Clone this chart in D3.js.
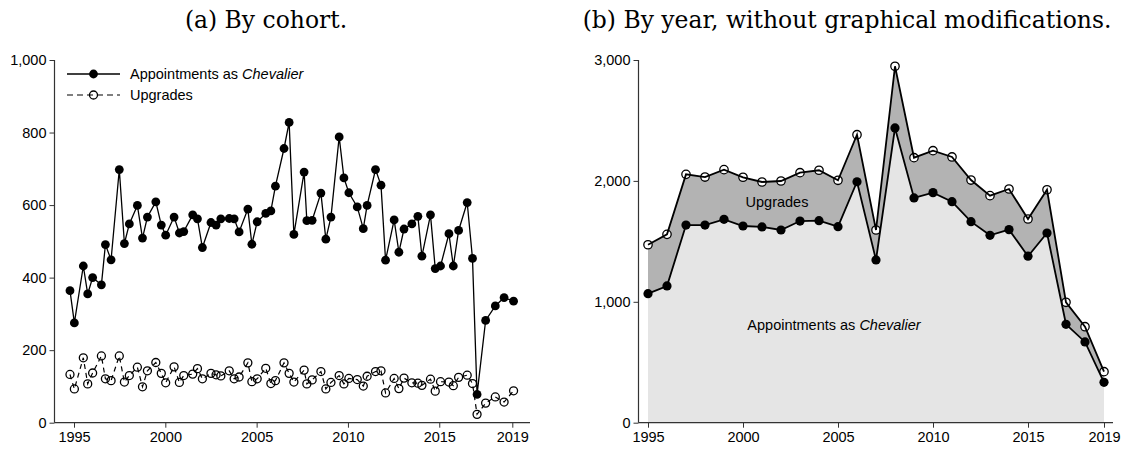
<!DOCTYPE html>
<html>
<head>
<meta charset="utf-8">
<script src="https://cdn.jsdelivr.net/npm/d3@7"></script>
<style>
html, body { margin: 0; padding: 0; background: #fff; }
svg { display: block; }
.tick text { font-family: "Liberation Sans", Arial, sans-serif; font-size: 14.5px; fill: #000; }
</style>
</head>
<body>
<svg id="chart" width="1125" height="449"></svg>
<script>
// ---------- Data: (a) by cohort ----------
const cohortDates = [1994.78, 1995.02, 1995.51, 1995.75, 1996.02, 1996.50, 1996.72, 1997.03, 1997.48, 1997.76,
  1998.03, 1998.47, 1998.75, 1999.02, 1999.48, 1999.78, 2000.02, 2000.48, 2000.77, 2001.01,
  2001.50, 2001.76, 2002.03, 2002.50, 2002.78, 2003.04, 2003.50, 2003.77, 2004.04, 2004.52,
  2004.74, 2005.03, 2005.50, 2005.78, 2006.03, 2006.50, 2006.78, 2007.04, 2007.60, 2007.75,
  2008.04, 2008.52, 2008.79, 2009.07, 2009.52, 2009.78, 2010.05, 2010.51, 2010.84, 2011.05,
  2011.51, 2011.81, 2012.06, 2012.53, 2012.79, 2013.07, 2013.50, 2013.83, 2014.05, 2014.52,
  2014.78, 2015.07, 2015.53, 2015.77, 2016.06, 2016.53, 2016.82, 2017.07, 2017.54, 2018.07,
  2018.55, 2019.07];
const cohortAppointments = [364, 275, 432, 355, 400, 380, 491, 449, 698, 494,
  548, 599, 509, 567, 609, 545, 517, 567, 523, 527,
  573, 562, 483, 552, 545, 562, 563, 562, 526, 589,
  492, 554, 577, 584, 652, 756, 828, 519, 691, 557,
  558, 633, 506, 567, 788, 675, 634, 595, 535, 599,
  698, 655, 448, 559, 470, 534, 548, 569, 459, 573,
  425, 432, 521, 432, 530, 607, 453, 78, 282, 322,
  345, 335];
const cohortUpgrades = [133, 93, 179, 107, 137, 184, 121, 116, 184, 112,
  130, 153, 99, 143, 166, 136, 110, 154, 111, 130,
  134, 149, 121, 136, 132, 129, 143, 121, 126, 165,
  113, 121, 150, 108, 116, 165, 136, 112, 145, 107,
  118, 141, 93, 111, 130, 107, 122, 119, 101, 128,
  141, 143, 82, 122, 94, 123, 110, 109, 103, 120,
  87, 113, 112, 102, 125, 131, 108, 23, 54, 71,
  57, 88];

// ---------- Data: (b) by year ----------
const years = [1995, 1996, 1997, 1998, 1999, 2000, 2001, 2002, 2003, 2004, 2005, 2006, 2007,
  2008, 2009, 2010, 2011, 2012, 2013, 2014, 2015, 2016, 2017, 2018, 2019];
const yearAppointments = [1067, 1131, 1635, 1635, 1682, 1627, 1619, 1594, 1668, 1671, 1621, 1993, 1346,
  2438, 1859, 1903, 1828, 1663, 1550, 1597, 1377, 1569, 814, 668, 334];
const yearUpgrades = [405, 427, 419, 397, 411, 403, 372, 405, 400, 417, 384, 389, 248,
  510, 333, 347, 370, 344, 328, 336, 308, 358, 182, 126, 88];

// ---------- Tick labels / texts ----------
const xTicks = [1995, 2000, 2005, 2010, 2015, 2019];
const yTicksLeft = [0, 200, 400, 600, 800, 1000];
const yTicksRight = [0, 1000, 2000, 3000];
const titleA = "(a) By cohort.";
const titleB = "(b) By year, without graphical modifications.";
const seriesNames = ["Appointments as ", "Chevalier", "Upgrades"];

const svg = d3.select("#chart");
const fmt = d3.format(",");
const sans = '"Liberation Sans", Arial, sans-serif';
const axisColor = "#333";

// ---------- Titles ----------
const serif = '"DejaVu Serif", "Liberation Serif", serif';
const tB = svg.append("text").attr("x", 847).attr("y", 28).attr("text-anchor", "middle")
  .style("font-family", serif).style("font-size", "20px").text(titleB);
const wB = tB.node().getComputedTextLength();
const titleSize = 20 * 529 / wB;
tB.style("font-size", titleSize + "px");
svg.append("text").attr("x", 266).attr("y", 28).attr("text-anchor", "middle")
  .style("font-family", serif).style("font-size", titleSize + "px").text(titleA);

function styleAxis(g) {
  g.select(".domain").remove();
  g.selectAll(".tick line").attr("stroke", axisColor).attr("stroke-width", 1);
}

// ================= Panel (a) =================
const xA = d3.scaleLinear().domain([1995, 2019]).range([74, 512.3]);
const yA = d3.scaleLinear().domain([0, 1000]).range([422.7, 60]);
const gA = svg.append("g");

gA.append("g").attr("transform", "translate(0,422.7)")
  .call(d3.axisBottom(xA).tickValues(xTicks).tickFormat(d3.format("d")).tickSize(5).tickPadding(4))
  .call(styleAxis);
gA.append("g").attr("transform", "translate(54.5,0)")
  .call(d3.axisLeft(yA).tickValues(yTicksLeft).tickFormat(fmt).tickSize(5).tickPadding(3))
  .call(styleAxis);
gA.append("line").attr("x1", 54.5).attr("x2", 530).attr("y1", 422.7).attr("y2", 422.7)
  .attr("stroke", axisColor).attr("stroke-width", 1.2);
gA.append("line").attr("x1", 54.5).attr("x2", 54.5).attr("y1", yA(1000)).attr("y2", 422.7)
  .attr("stroke", axisColor).attr("stroke-width", 1.2);

const cohort = cohortDates.map((d, i) => ({ t: d, a: cohortAppointments[i], u: cohortUpgrades[i] }));

gA.append("path").datum(cohort)
  .attr("d", d3.line().x(d => xA(d.t)).y(d => yA(d.u)))
  .attr("fill", "none").attr("stroke", "#000").attr("stroke-width", 1.2).attr("stroke-dasharray", "5,4");
gA.selectAll("circle.up").data(cohort).join("circle").attr("class", "up")
  .attr("cx", d => xA(d.t)).attr("cy", d => yA(d.u)).attr("r", 4)
  .attr("fill", "none").attr("stroke", "#000").attr("stroke-width", 1.3);

gA.append("path").datum(cohort)
  .attr("d", d3.line().x(d => xA(d.t)).y(d => yA(d.a)))
  .attr("fill", "none").attr("stroke", "#000").attr("stroke-width", 1.3);
gA.selectAll("circle.ap").data(cohort).join("circle").attr("class", "ap")
  .attr("cx", d => xA(d.t)).attr("cy", d => yA(d.a)).attr("r", 4.4)
  .attr("fill", "#000");

// Legend
const lg = gA.append("g");
lg.append("line").attr("x1", 67).attr("x2", 120).attr("y1", 74).attr("y2", 74)
  .attr("stroke", "#000").attr("stroke-width", 1.3);
lg.append("circle").attr("cx", 93.5).attr("cy", 74).attr("r", 4.4).attr("fill", "#000");
const lt1 = lg.append("text").attr("x", 130).attr("y", 79).style("font-family", sans).style("font-size", "14.5px");
lt1.append("tspan").text(seriesNames[0]);
lt1.append("tspan").style("font-style", "italic").text(seriesNames[1]);
lg.append("line").attr("x1", 67).attr("x2", 120).attr("y1", 95).attr("y2", 95)
  .attr("stroke", "#000").attr("stroke-width", 1.2).attr("stroke-dasharray", "6,4");
lg.append("circle").attr("cx", 93.5).attr("cy", 95).attr("r", 4).attr("fill", "none")
  .attr("stroke", "#000").attr("stroke-width", 1.3);
lg.append("text").attr("x", 130).attr("y", 100).style("font-family", sans).style("font-size", "14.5px")
  .text(seriesNames[2]);

// ================= Panel (b) =================
const xB = d3.scaleLinear().domain([1995, 2019]).range([648, 1104]);
const yB = d3.scaleLinear().domain([0, 3000]).range([422.7, 60]);
const gB = svg.append("g");

const yearly = years.map((y, i) => ({ t: y, a: yearAppointments[i], u: yearUpgrades[i] }));
const stack = d3.stack().keys(["a", "u"])(yearly);

const area = d3.area().x(d => xB(d.data.t)).y0(d => yB(d[0])).y1(d => yB(d[1]));
gB.append("path").datum(stack[0]).attr("d", area).attr("fill", "#e5e5e5");
gB.append("path").datum(stack[1]).attr("d", area).attr("fill", "#b3b3b3");

gB.append("g").attr("transform", "translate(0,422.7)")
  .call(d3.axisBottom(xB).tickValues(xTicks).tickFormat(d3.format("d")).tickSize(5).tickPadding(4))
  .call(styleAxis);
gB.append("g").attr("transform", "translate(638.5,0)")
  .call(d3.axisLeft(yB).tickValues(yTicksRight).tickFormat(fmt).tickSize(5).tickPadding(3))
  .call(styleAxis);
gB.append("line").attr("x1", 638.5).attr("x2", 1113).attr("y1", 422.7).attr("y2", 422.7)
  .attr("stroke", axisColor).attr("stroke-width", 1.2);
gB.append("line").attr("x1", 638.5).attr("x2", 638.5).attr("y1", yB(3000)).attr("y2", 422.7)
  .attr("stroke", axisColor).attr("stroke-width", 1.2);

// hollow marker interiors
gB.selectAll("circle.uf").data(stack[1]).join("circle").attr("class", "uf")
  .attr("cx", d => xB(d.data.t)).attr("cy", d => yB(d[1])).attr("r", 4.2).attr("fill", "#fff");

const lineTop = d3.line().x(d => xB(d.data.t)).y(d => yB(d[1]));
gB.append("path").datum(stack[1]).attr("d", lineTop)
  .attr("fill", "none").attr("stroke", "#000").attr("stroke-width", 1.8);
gB.append("path").datum(stack[0]).attr("d", lineTop)
  .attr("fill", "none").attr("stroke", "#000").attr("stroke-width", 1.8);

gB.selectAll("circle.us").data(stack[1]).join("circle").attr("class", "us")
  .attr("cx", d => xB(d.data.t)).attr("cy", d => yB(d[1])).attr("r", 4.2)
  .attr("fill", "none").attr("stroke", "#000").attr("stroke-width", 1.3);
gB.selectAll("circle.af").data(stack[0]).join("circle").attr("class", "af")
  .attr("cx", d => xB(d.data.t)).attr("cy", d => yB(d[1])).attr("r", 4.6).attr("fill", "#000");

gB.append("text").attr("x", 777).attr("y", 207).attr("text-anchor", "middle")
  .style("font-family", sans).style("font-size", "14.5px").text(seriesNames[2]);
const lt2 = gB.append("text").attr("x", 834).attr("y", 330).attr("text-anchor", "middle")
  .style("font-family", sans).style("font-size", "14.5px");
lt2.append("tspan").text(seriesNames[0]);
lt2.append("tspan").style("font-style", "italic").text(seriesNames[1]);
</script>
</body>
</html>
